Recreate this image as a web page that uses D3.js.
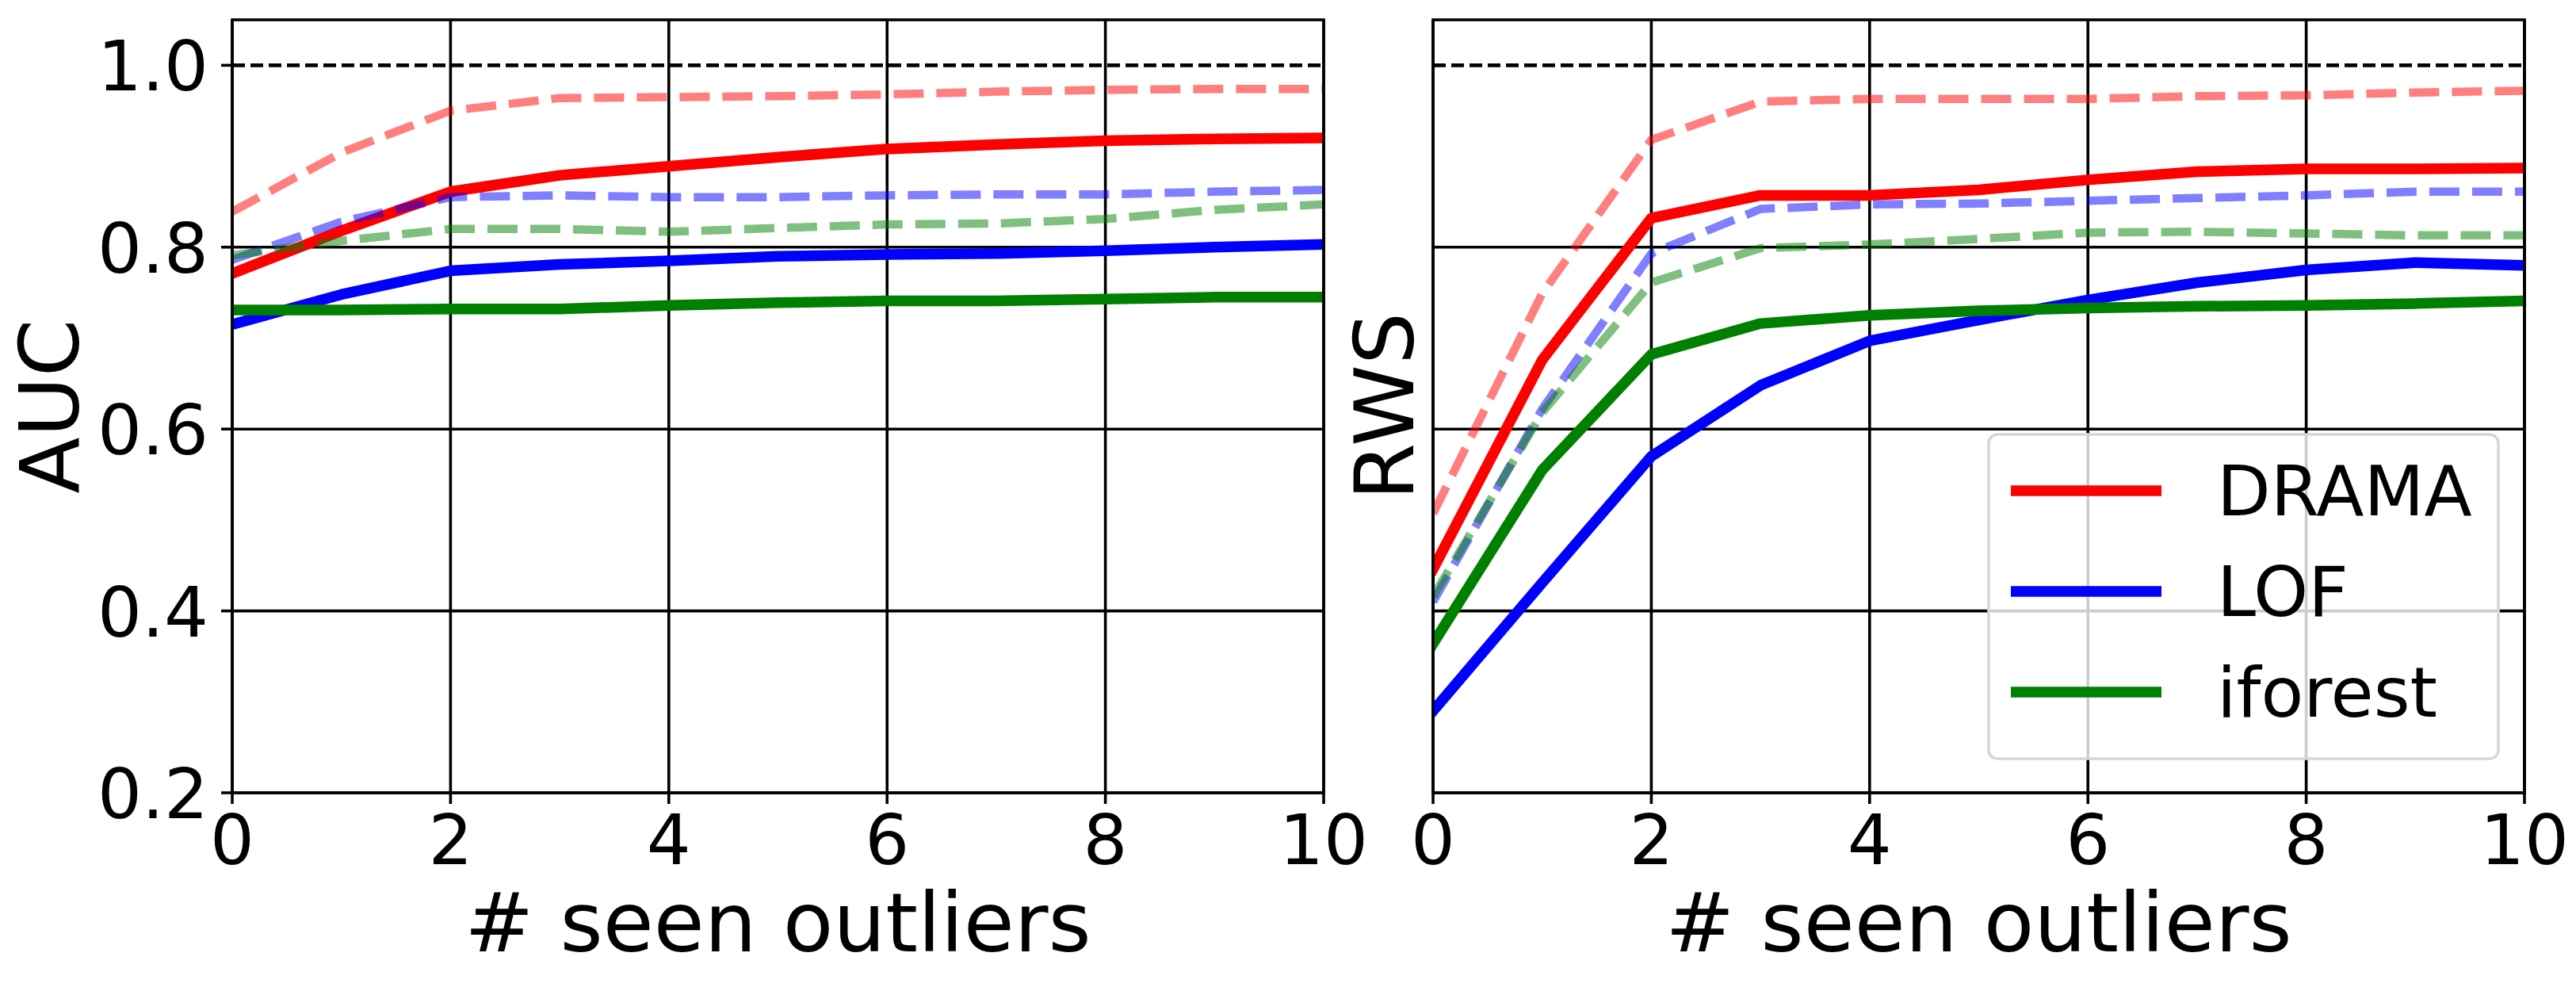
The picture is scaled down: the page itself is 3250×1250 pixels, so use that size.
<!DOCTYPE html>
<html>
<head>
<meta charset="utf-8">
<script src="https://cdn.jsdelivr.net/npm/d3@7"></script>
<style>
  html, body { margin: 0; padding: 0; background: #fff; }
  svg { display: block; }
  text { font-family: "DejaVu Sans", sans-serif; fill: #000; }
</style>
</head>
<body>
<svg id="chart" width="3250" height="1250"></svg>
<script>
// ---------- data ----------
const xs = [0, 1, 2, 3, 4, 5, 6, 7, 8, 9, 10];
const xTicks = [0, 2, 4, 6, 8, 10];
const yTicks = [0.2, 0.4, 0.6, 0.8, 1.0];
const methods = ["DRAMA", "LOF", "iforest"];
const colors = ["#ff0000", "#0000ff", "#008000"];

// AUC panel
const dramaAUC      = [0.771, 0.818, 0.861, 0.879, 0.889, 0.899, 0.908, 0.913, 0.917, 0.919, 0.920];
const dramaAUCdash  = [0.839, 0.904, 0.950, 0.964, 0.965, 0.966, 0.968, 0.971, 0.973, 0.974, 0.974];
const lofAUC        = [0.715, 0.748, 0.774, 0.781, 0.785, 0.790, 0.792, 0.793, 0.796, 0.800, 0.803];
const lofAUCdash    = [0.786, 0.828, 0.855, 0.857, 0.855, 0.855, 0.857, 0.858, 0.858, 0.861, 0.863];
const iforestAUC    = [0.731, 0.731, 0.732, 0.732, 0.736, 0.739, 0.741, 0.741, 0.743, 0.745, 0.745];
const iforestAUCdash= [0.791, 0.807, 0.820, 0.820, 0.817, 0.821, 0.825, 0.826, 0.831, 0.841, 0.847];

// RWS panel
const dramaRWS      = [0.446, 0.676, 0.832, 0.857, 0.857, 0.863, 0.874, 0.883, 0.886, 0.886, 0.887];
const dramaRWSdash  = [0.507, 0.749, 0.918, 0.960, 0.963, 0.963, 0.963, 0.966, 0.967, 0.970, 0.972];
const lofRWS        = [0.290, 0.431, 0.570, 0.648, 0.697, 0.720, 0.742, 0.761, 0.775, 0.783, 0.780];
const lofRWSdash    = [0.410, 0.622, 0.793, 0.842, 0.847, 0.848, 0.851, 0.854, 0.857, 0.861, 0.861];
const iforestRWS    = [0.364, 0.555, 0.682, 0.716, 0.725, 0.730, 0.733, 0.735, 0.736, 0.738, 0.741];
const iforestRWSdash= [0.416, 0.618, 0.761, 0.799, 0.803, 0.809, 0.816, 0.817, 0.815, 0.813, 0.813];

const refLine = 1.0;

// ---------- layout ----------
const svg = d3.select("#chart");
const plotTop = 25, plotBottom = 1000;
const panels = [
  { left: 293, right: 1670, ylabel: "AUC", ylabelX: 99, showYTicks: true,
    series: [dramaAUC, dramaAUCdash, lofAUC, lofAUCdash, iforestAUC, iforestAUCdash] },
  { left: 1808, right: 3185, ylabel: "RWS", ylabelX: 1783, showYTicks: false,
    series: [dramaRWS, dramaRWSdash, lofRWS, lofRWSdash, iforestRWS, iforestRWSdash] }
];

const tickFont = 88, labelFont = 104;
const gridW = 3.6, spineW = 3.6;

panels.forEach((p, pi) => {
  const x = d3.scaleLinear().domain([0, 10]).range([p.left, p.right]);
  const y = d3.scaleLinear().domain([0.2, 1.05]).range([plotBottom, plotTop]);
  const g = svg.append("g");

  const clipId = "clip" + pi;
  svg.append("clipPath").attr("id", clipId)
    .append("rect").attr("x", p.left).attr("y", plotTop)
    .attr("width", p.right - p.left).attr("height", plotBottom - plotTop);

  // grid
  const grid = g.append("g");
  grid.selectAll("line.vg").data(xTicks).enter().append("line")
    .attr("x1", d => x(d)).attr("x2", d => x(d))
    .attr("y1", plotTop).attr("y2", plotBottom)
    .attr("stroke", "#000").attr("stroke-width", gridW);
  grid.selectAll("line.hg").data(yTicks.filter(v => v < 1)).enter().append("line")
    .attr("x1", p.left).attr("x2", p.right)
    .attr("y1", d => y(d)).attr("y2", d => y(d))
    .attr("stroke", "#000").attr("stroke-width", gridW);

  // reference dashed line at 1.0
  g.append("line")
    .attr("x1", p.left).attr("x2", p.right)
    .attr("y1", y(refLine)).attr("y2", y(refLine))
    .attr("stroke", "#000").attr("stroke-width", 4.6)
    .attr("stroke-dasharray", "16,7");

  // series
  const lineGen = d3.line().x((d, i) => x(xs[i])).y(d => y(d));
  const lg = g.append("g").attr("clip-path", `url(#${clipId})`);
  p.series.forEach((vals, si) => {
    const mi = Math.floor(si / 2);
    const dashed = si % 2 === 1;
    const path = lg.append("path")
      .datum(vals)
      .attr("d", lineGen)
      .attr("fill", "none")
      .attr("stroke", colors[mi])
      .attr("stroke-linejoin", "round");
    if (dashed) {
      path.attr("stroke-width", 10.5).attr("stroke-opacity", 0.5)
        .attr("stroke-dasharray", "38,16").attr("stroke-linecap", "butt");
    } else {
      path.attr("stroke-width", 13.5).attr("stroke-linecap", "square");
    }
  });

  // spines
  g.append("rect")
    .attr("x", p.left).attr("y", plotTop)
    .attr("width", p.right - p.left).attr("height", plotBottom - plotTop)
    .attr("fill", "none").attr("stroke", "#000").attr("stroke-width", spineW);

  // x ticks
  const xt = g.append("g");
  xt.selectAll("line").data(xTicks).enter().append("line")
    .attr("x1", d => x(d)).attr("x2", d => x(d))
    .attr("y1", plotBottom).attr("y2", plotBottom + 14)
    .attr("stroke", "#000").attr("stroke-width", spineW);
  xt.selectAll("text").data(xTicks).enter().append("text")
    .attr("x", d => x(d)).attr("y", 1090)
    .attr("text-anchor", "middle")
    .attr("font-size", tickFont)
    .text(d => d3.format("d")(d));

  // y ticks
  if (p.showYTicks) {
    const yt = g.append("g");
    yt.selectAll("line").data(yTicks).enter().append("line")
      .attr("x1", p.left - 14).attr("x2", p.left)
      .attr("y1", d => y(d)).attr("y2", d => y(d))
      .attr("stroke", "#000").attr("stroke-width", spineW);
    yt.selectAll("text").data(yTicks).enter().append("text")
      .attr("x", p.left - 30).attr("y", d => y(d) + 32)
      .attr("text-anchor", "end")
      .attr("font-size", tickFont)
      .text(d => d3.format(".1f")(d));
  }

  // axis labels
  g.append("text")
    .attr("x", (p.left + p.right) / 2).attr("y", 1200)
    .attr("text-anchor", "middle").attr("font-size", labelFont)
    .text("# seen outliers");
  g.append("text")
    .attr("transform", `translate(${p.ylabelX},${(plotTop + plotBottom) / 2}) rotate(-90)`)
    .attr("text-anchor", "middle").attr("font-size", labelFont)
    .text(p.ylabel);

  // legend on right panel
  if (pi === 1) {
    const leg = g.append("g");
    leg.append("rect")
      .attr("x", 2509).attr("y", 548).attr("width", 643).attr("height", 409)
      .attr("rx", 11).attr("ry", 11)
      .attr("fill", "#fff").attr("fill-opacity", 0.8)
      .attr("stroke", "#d6d6d6").attr("stroke-width", 3.6);
    const rowY = [619, 746, 873];
    methods.forEach((m, i) => {
      leg.append("line")
        .attr("x1", 2537).attr("x2", 2727)
        .attr("y1", rowY[i]).attr("y2", rowY[i])
        .attr("stroke", colors[i]).attr("stroke-width", 13.5);
      leg.append("text")
        .attr("x", 2797).attr("y", rowY[i] + 31)
        .attr("font-size", tickFont)
        .text(m);
    });
  }
});
</script>
</body>
</html>
